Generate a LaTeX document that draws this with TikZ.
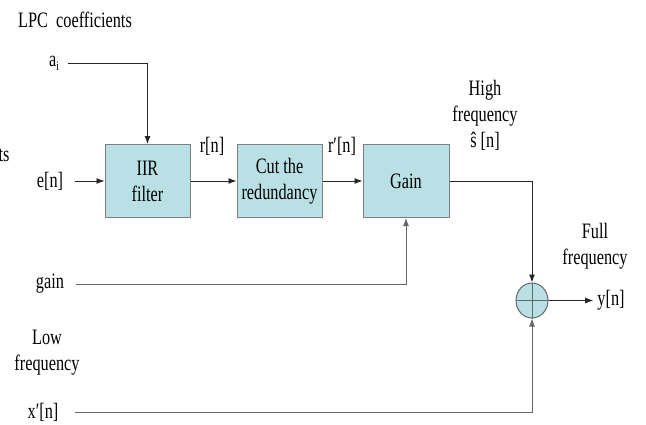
\documentclass[tikz,border=0pt]{standalone}
\usepackage{fontspec}
\setmainfont[FakeStretch=0.74]{Liberation Serif}
\usetikzlibrary{shapes.geometric,arrows.meta}
\begin{document}
\begin{tikzpicture}[x=1pt,y=-1pt,
  every node/.style={font=\fontsize{22}{26}\selectfont, inner sep=0pt},
  txt/.style={align=center},
  blk/.style={draw=black!50, line width=1pt, fill=boxc, minimum height=73pt, align=center},
  wire/.style={line width=0.9pt, draw=black!85},
  arr/.style={wire, -{Latex[length=8pt,width=6pt]}}]
\definecolor{boxc}{RGB}{185,224,228}
\useasboundingbox (0,0) rectangle (646,424);
% labels
\node[txt] (lpc) at (75,20) {LPC\ \ coefficients};
\node[txt] (ai) at (54,63) {a\raisebox{-4pt}{\fontsize{13}{13}\selectfont i}};
\node[txt] (ts) at (4,155) {ts};
\node[txt] (en) at (50,181) {e[n]};
\node[txt] (gl) at (50,284) {gain};
\node[txt] (low) at (47,353) {Low\\frequency};
\node[txt] (xn) at (43,412) {x′[n]};
\node[txt] (rn) at (212,146) {r[n]};
\node[txt] (rpn) at (342,146) {r′[n]};
\node[txt] (hf) at (485,115) {High\\frequency\\ŝ [n]};
\node[txt] (ff) at (595,246) {Full\\frequency};
\node[txt] (yn) at (611,300.5) {y[n]};
% blocks
\node[blk, minimum width=85pt] (iir) at (147.5,181) {IIR\\filter};
\node[blk, minimum width=85pt] (cut) at (279.5,181) {Cut the\\redundancy};
\node[blk, minimum width=86pt] (gain) at (406,181) {Gain};
\node[draw=black!60, line width=1pt, fill=boxc, ellipse, minimum width=32pt, minimum height=35pt] (sum) at (532,300.5) {};
\draw[wire, draw=black!60] (sum.north) -- (sum.south) (sum.west) -- (sum.east);
% connectors
\draw[arr, shorten <=9pt] (ai.east) -| (iir.north);
\draw[arr, shorten <=12pt] (en.east) -- (iir.west);
\draw[arr] (iir.east) -- (cut.west);
\draw[arr] (cut.east) -- (gain.west);
\draw[arr] (gain.east) -| (sum.north);
\draw[arr, draw=black!60, shorten <=12pt] (gl.east) -| (gain.south);
\draw[arr, draw=black!60, shorten <=16pt] (xn.east) -| (sum.south);
\draw[arr, shorten >=4pt] (sum.east) -- (sum.east -| yn.west);
\end{tikzpicture}
\end{document}
